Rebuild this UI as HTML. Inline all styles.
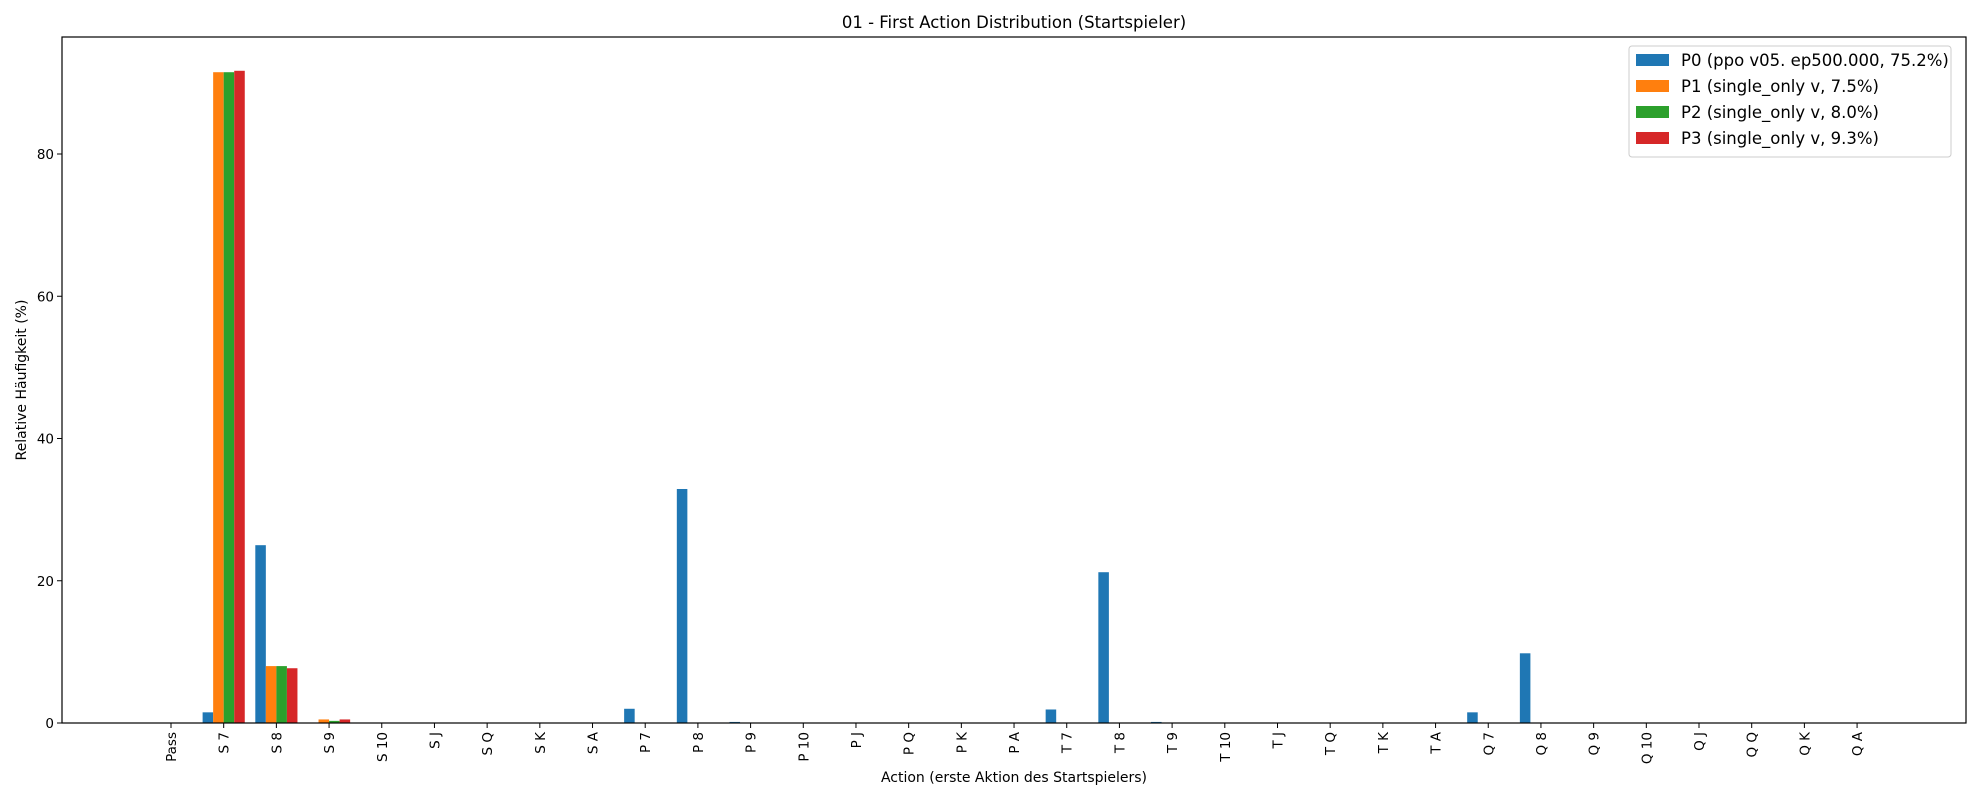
<!DOCTYPE html>
<html><head><meta charset="utf-8"><style>
body{margin:0;background:#fff}
svg{display:block;font-family:"DejaVu Sans","Liberation Sans",sans-serif}
</style></head><body>
<svg id="chart" width="1980" height="800"></svg>
<script>
const categories=["Pass","S 7","S 8","S 9","S 10","S J","S Q","S K","S A","P 7","P 8","P 9","P 10","P J","P Q","P K","P A","T 7","T 8","T 9","T 10","T J","T Q","T K","T A","Q 7","Q 8","Q 9","Q 10","Q J","Q Q","Q K","Q A"];
const p0=[0,1.5,25,0,0,0,0,0,0,2.0,32.9,0.15,0,0,0,0,0,1.9,21.2,0.15,0,0,0,0,0,1.5,9.8,0,0,0,0,0,0];
const p1=[0,91.5,8.0,0.5,0,0,0,0,0,0,0,0,0,0,0,0,0,0,0,0,0,0,0,0,0,0,0,0,0,0,0,0,0];
const p2=[0,91.5,8.0,0.3,0,0,0,0,0,0,0,0,0,0,0,0,0,0,0,0,0,0,0,0,0,0,0,0,0,0,0,0,0];
const p3=[0,91.7,7.7,0.5,0,0,0,0,0,0,0,0,0,0,0,0,0,0,0,0,0,0,0,0,0,0,0,0,0,0,0,0,0];
const seriesLabels=["P0 (ppo v05. ep500.000, 75.2%)","P1 (single_only v, 7.5%)","P2 (single_only v, 8.0%)","P3 (single_only v, 9.3%)"];
const yTicks=[0,20,40,60,80];
const series=[p0,p1,p2,p3];
const colors=["#1f77b4","#ff7f0e","#2ca02c","#d62728"];
const L=62,R=1966,T=37,B=723;
const xs=i=>171+i*52.69;
const ys=v=>B-v*7.1125;
const bw=0.2*52.69;
const svg=document.getElementById('chart');
const NS="http://www.w3.org/2000/svg";
function mk(tag,attrs,parent){const e=document.createElementNS(NS,tag);for(const k in attrs)e.setAttribute(k,attrs[k]);(parent||svg).appendChild(e);return e;}
series.forEach((s,si)=>{
  const g=mk('g',{});
  
  
  s.forEach((v,i)=>{
    const x=xs(i)+(si-1.5)*bw-bw/2;
    const r=mk('rect',{x:x,y:ys(v),width:bw,height:Math.max(0,B-ys(v)),fill:colors[si]},g);
    
    
  });
});
const frame=mk('rect',{x:L,y:T,width:R-L,height:B-T,fill:'none',stroke:'#000','stroke-width':1.2});


yTicks.forEach(t=>{
  const y=ys(t);
  mk('line',{x1:L-5,x2:L,y1:y,y2:y,stroke:'#000'});
  const tx=mk('text',{x:L-8,y:y+5,'text-anchor':'end','font-size':13.5});
  tx.textContent=t;
  
  
});
categories.forEach((c,i)=>{
  const x=xs(i);
  mk('line',{x1:x,x2:x,y1:B,y2:B+5,stroke:'#000'});
  const tx=mk('text',{x:0,y:0,'text-anchor':'end','font-size':13.5,transform:`translate(${x+5},${B+9}) rotate(-90)`});
  tx.textContent=c;
  
  
});
const title=mk('text',{x:(L+R)/2,y:28,'text-anchor':'middle','font-size':16.5});
title.textContent="01 - First Action Distribution (Startspieler)";


const xl=mk('text',{x:(L+R)/2,y:782,'text-anchor':'middle','font-size':14});
xl.textContent="Action (erste Aktion des Startspielers)";


const yl=mk('text',{x:0,y:0,'text-anchor':'middle','font-size':14,transform:`translate(26,${(T+B)/2}) rotate(-90)`});
yl.textContent="Relative Häufigkeit (%)";


const lg=mk('g',{});


mk('rect',{x:1629,y:46,width:322,height:111,rx:3,fill:'#fff',stroke:'#ccc'},lg);
seriesLabels.forEach((s,i)=>{
  const y=60+i*26;
  mk('rect',{x:1636,y:y-6,width:33,height:12,fill:colors[i]},lg);
  const t=mk('text',{x:1681,y:y+6,'font-size':16.5},lg);
  t.textContent=s;
  
  
});
</script>
</body></html>
